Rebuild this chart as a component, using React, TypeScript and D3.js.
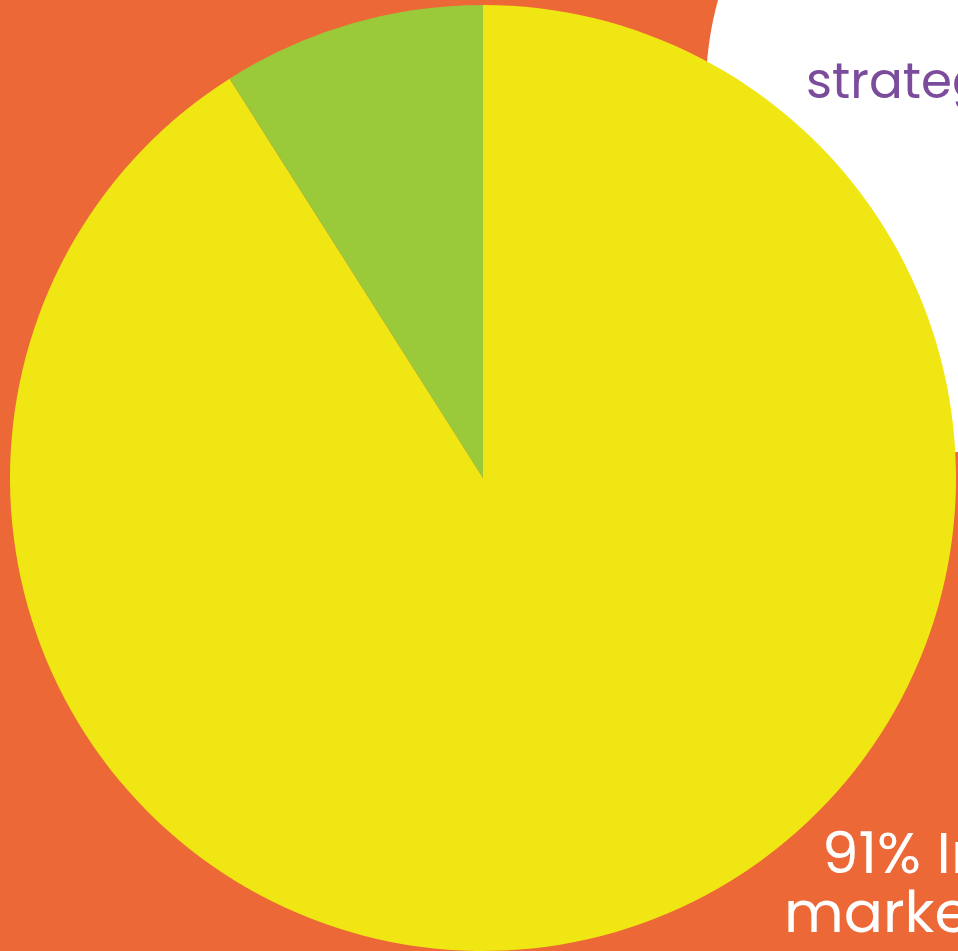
import React from "react";
import * as d3 from "d3";

const categories = ["Inbound", "Other"];
const values = [91, 9];
const sliceColors = ["#F0E614", "#9ACA3A"];
const topLabel = "strategy";
const bottomLines = ["91% Inbound", "marketers"];

const W = 958;
const H = 951;

export default function App() {
  const cx = 483;
  const cy = 478;
  const r = 473;
  const pie = d3
    .pie<number>()
    .sort(null)
    .value((d) => d)
    .startAngle(0)
    .endAngle(2 * Math.PI);
  const arcs = pie(values);
  const arc = d3.arc<d3.PieArcDatum<number>>().innerRadius(0).outerRadius(r);

  return (
    <svg
      width={W}
      height={H}
      style={{ position: "absolute", left: 0, top: 0, display: "block" }}
    >
      <rect x={0} y={0} width={W} height={H} fill="#EC6836" />
      <path
        d="M718,0 C712,22 707,48 706,80 L706,452 L958,452 L958,0 Z"
        fill="#FFFFFF"
      />
      <text
        x={806}
        y={98}
        fill="#7B4B9C"
        fontFamily="Poppins, 'Open Sans', sans-serif"
        fontSize={50}
      >
        {topLabel}
      </text>
      <g transform={`translate(${cx},${cy})`}>
        {arcs.map((a, i) => (
          <path key={categories[i]} d={arc(a) || ""} fill={sliceColors[i]} />
        ))}
      </g>
      <text
        fill="#FFFFFF"
        fontFamily="Poppins, 'Open Sans', sans-serif"
        fontSize={58}
      >
        <tspan x={822} y={873}>
          {bottomLines[0]}
        </tspan>
        <tspan x={784} y={932}>
          {bottomLines[1]}
        </tspan>
      </text>
    </svg>
  );
}
